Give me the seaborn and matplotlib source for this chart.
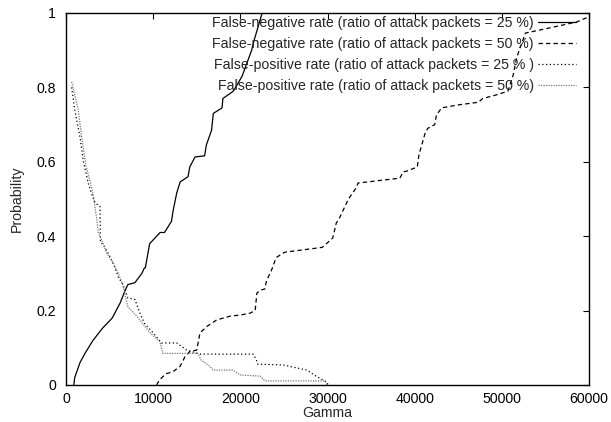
import pandas as pd
import matplotlib
matplotlib.use('Agg')
import matplotlib.pyplot as plt
from matplotlib.ticker import FuncFormatter
import seaborn as sns

# values
fn25_gamma = [900, 1000, 1300, 1600, 2200, 3100, 4200, 5300, 6200, 6800, 7100, 7900, 8700, 9000, 9100,
              9600, 10800, 11300, 12100, 12300, 12700, 13100, 14000, 14200, 14800, 15900, 16100, 16700,
              16900, 17900, 18000, 19200, 20200, 21300, 21500, 22500]
fn25_prob = [0, 0.02, 0.04, 0.06, 0.086, 0.12, 0.153, 0.18, 0.22, 0.255, 0.27, 0.275, 0.30, 0.315, 0.315,
             0.38, 0.41, 0.41, 0.44, 0.47, 0.516, 0.546, 0.56, 0.586, 0.613, 0.616, 0.645, 0.685,
             0.73, 0.745, 0.77, 0.79, 0.83, 0.90, 0.92, 1.0]

fn50_gamma = [10400, 10700, 11440, 12280, 13080, 13650, 14200, 15000, 15370, 16140, 17290, 18810, 19960,
              21100, 21700, 21900, 22300, 22800, 23000, 23600, 24000, 24200, 25100, 29400, 30600, 31000,
              31400, 32400, 33300, 33500, 38300, 38700, 39100, 40300, 40500, 41200, 41500, 42300, 42500,
              43100, 45000, 47300, 47800, 49400, 50700, 51300, 51700, 52700, 53500, 55500, 58600, 60000]
fn50_prob = [0, 0.013, 0.03, 0.036, 0.05, 0.076, 0.09, 0.094, 0.14, 0.157, 0.175, 0.185, 0.188,
             0.193, 0.20, 0.247, 0.255, 0.258, 0.28, 0.31, 0.336, 0.344, 0.357, 0.37, 0.395, 0.435,
             0.45, 0.50, 0.53, 0.543, 0.556, 0.573, 0.575, 0.586, 0.62, 0.677, 0.69, 0.70, 0.726,
             0.745, 0.753, 0.76, 0.77, 0.78, 0.79, 0.833, 0.88, 0.946, 0.95, 0.96, 0.976, 0.99]

fp25_gamma = [650, 1000, 1600, 2000, 2560, 3000, 3330, 3900, 3950, 4300, 5050, 5620, 6000, 6540, 7100,
              7900, 8490, 9000, 10000, 10980, 12700, 13850, 15370, 21470, 21800, 22000, 24900, 27650,
              28800, 29940, 30060]
fp25_prob = [0.80, 0.74, 0.667, 0.60, 0.542, 0.51, 0.49, 0.48, 0.385, 0.376, 0.345, 0.315, 0.29, 0.27,
             0.234, 0.23, 0.193, 0.166, 0.14, 0.113, 0.113, 0.094, 0.083, 0.083, 0.07, 0.056, 0.054,
             0.04, 0.022, 0.008, 0]

fp50_gamma = [650, 900, 1400, 1800, 2300, 2830, 3130, 3500, 3700, 4090, 4670, 5430, 6000, 6500, 7100,
              8200, 9640, 10780, 11100, 15140, 15500, 16520, 16870, 19160, 19960, 22260, 22830, 29700,
              29940]
fp50_prob = [0.815, 0.79, 0.74, 0.667, 0.587, 0.542, 0.51, 0.45, 0.41, 0.39, 0.355, 0.328, 0.30, 0.27,
             0.21, 0.183, 0.14, 0.116, 0.085, 0.085, 0.067, 0.05, 0.04, 0.04, 0.027, 0.024, 0.011,
             0.011, 0]

labels = ['False-negative rate (ratio of attack packets = 25 %)',
          'False-negative rate (ratio of attack packets = 50 %)',
          'False-positive rate (ratio of attack packets = 25 % )',
          'False-positive rate (ratio of attack packets = 50 %)']

sns.set_theme(style='white', rc={'axes.edgecolor': 'black', 'axes.linewidth': 1.0,
                                 'xtick.direction': 'in', 'ytick.direction': 'in',
                                 'xtick.top': True, 'ytick.right': True,
                                 'xtick.major.size': 4, 'ytick.major.size': 4,
                                 'xtick.major.width': 0.8, 'ytick.major.width': 0.8})
plt.rcParams['font.family'] = ['Liberation Sans', 'DejaVu Sans']
fs = 10.2

fig = plt.figure(figsize=(6.11, 4.22), dpi=100)
ax = fig.add_axes([66 / 611, 1 - 385 / 422, 523 / 611, 372 / 422])

series = [(fn25_gamma, fn25_prob, 'black', '-'),
          (fn50_gamma, fn50_prob, 'black', (0, (3.5, 2.5))),
          (fp25_gamma, fp25_prob, 'black', (0, (1, 2))),
          (fp50_gamma, fp50_prob, '#777777', (0, (1, 1)))]
for (g, p, c, ls), lab in zip(series, labels):
    df = pd.DataFrame({'Gamma': g, 'Probability': p})
    sns.lineplot(data=df, x='Gamma', y='Probability', ax=ax, color=c, linestyle=ls,
                 linewidth=0.9, estimator=None, sort=False, label=lab)

ax.set_xlim(0, 60000)
ax.set_ylim(0, 1)
ax.set_xticks([0, 10000, 20000, 30000, 40000, 50000, 60000])
ax.set_yticks([0, 0.2, 0.4, 0.6, 0.8, 1.0])
ax.yaxis.set_major_formatter(FuncFormatter(lambda v, _: '%g' % v))
ax.tick_params(labelsize=fs, colors='black')
ax.tick_params(axis='y', pad=7)
ax.tick_params(axis='x', pad=5)
ax.set_xlabel('Gamma', fontsize=fs, labelpad=0)
ax.set_ylabel('Probability', fontsize=fs, labelpad=9)

ax.legend(loc='upper right', bbox_to_anchor=((576 - 66) / 523, (385 - 16) / 372),
          frameon=False, markerfirst=False, fontsize=fs,
          handlelength=2.7, handletextpad=0.3, labelspacing=0.5,
          borderaxespad=0, borderpad=0)

fig.savefig('out.png', dpi=100)
